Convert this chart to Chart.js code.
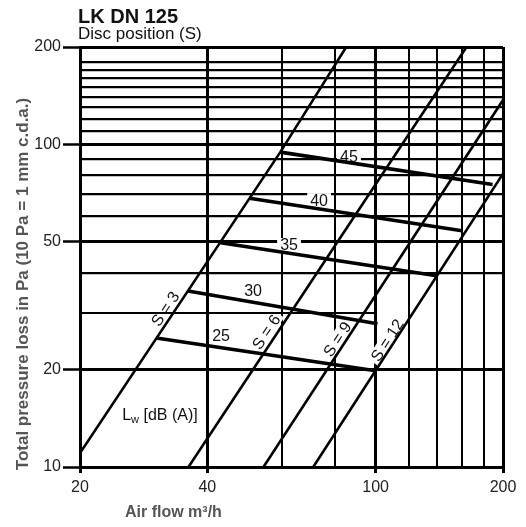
<!DOCTYPE html>
<html><head><meta charset="utf-8">
<script src="https://cdn.jsdelivr.net/npm/chart.js@4.4.1/dist/chart.umd.min.js"></script>
<style>html,body{margin:0;padding:0;background:#fff}canvas{display:block}</style>
</head><body>
<canvas id="c" width="526" height="527"></canvas>
<script>
const FONT = '"Liberation Sans", Arial, Helvetica, sans-serif';
const chartTitle = 'LK DN 125';
const chartSubtitle = 'Disc position (S)';
const xAxisTitle = 'Air flow m³/h';
const yAxisTitle = 'Total pressure loss in Pa (10 Pa = 1 mm c.d.a.)';

const xGridValues = [20, 40, 60, 80, 100, 120, 140, 160, 180, 200];
const xTickLabels = [20, 40, 100, 200];
const xMajor = [20, 40, 100, 200];
const yGridValues = [10, 20, 30, 40, 50, 60, 70, 80, 90, 100, 110, 120, 130, 140, 150, 160, 170, 180, 200];
const yTickLabels = [10, 20, 50, 100, 200];
const yMajor = [10, 20, 50, 100, 200];
const yPartial = [30];

// Disc position curves: [air flow m3/h, pressure Pa]
const discNames = ['S = 3', 'S = 6', 'S = 9', 'S = 12'];
const discS3 = [[20, 11.05], [59.5, 94.5], [85.2, 200]];
const discS6 = [[36.1, 10], [164, 200]];
const discS9 = [[54.3, 10], [200, 137]];
const discS12 = [[71.2, 10], [200, 81]];
const discLabelPos = [[31.8, 30.9], [55.1, 26.2], [81.1, 24.9], [106.5, 24.7]];

// Sound power level lines Lw dB(A)
const soundLevels = [25, 30, 35, 40, 45];
const sound25 = [[30.3, 25.1], [99, 19.9]];
const sound30 = [[36, 35.1], [101, 27.8]];
const sound35 = [[43, 49.5], [139.4, 39.1]];
const sound40 = [[50.3, 68], [160, 53.9]];
const sound45 = [[59.5, 94.5], [189, 75]];
const soundLabelPos = [[43.1, 25.6], [51.3, 35.1], [62.4, 48.7], [73.5, 67.1], [86.5, 91.8]];
const lwLabelPos = [30.9, 14.6];
const grid30Partial = [[20, 30], [100, 30]];

const toXY = arr => arr.map(p => ({x: p[0], y: p[1]}));
const discs = [discS3, discS6, discS9, discS12];
const sounds = [sound25, sound30, sound35, sound40, sound45];

const datasets = [];
datasets.push({label: 'grid30', data: toXY(grid30Partial), borderColor: '#000', borderWidth: 2.2});
discs.forEach((d, i) => datasets.push({label: discNames[i], data: toXY(d), borderColor: '#000', borderWidth: 2.6}));
sounds.forEach((d, i) => datasets.push({label: 'Lw ' + soundLevels[i], data: toXY(d), borderColor: '#000', borderWidth: 3.6}));
datasets.forEach(d => { d.showLine = true; d.pointRadius = 0; d.fill = false; d.tension = 0; });

const annot = {
  id: 'annot',
  beforeDatasetsDraw(chart) {
    const {ctx, scales: {x, y}} = chart;
    ctx.save();
    ctx.textAlign = 'center';
    ctx.textBaseline = 'middle';
    // sound level numbers
    ctx.font = '16px ' + FONT;
    soundLevels.forEach((lv, i) => {
      const px = x.getPixelForValue(soundLabelPos[i][0]);
      const py = y.getPixelForValue(soundLabelPos[i][1]);
      const t = String(lv);
      const w = ctx.measureText(t).width;
      ctx.fillStyle = '#fff';
      ctx.fillRect(px - w / 2 - 3, py - 7, w + 6, 14);
      ctx.fillStyle = '#111';
      ctx.fillText(t, px, py + 1);
    });
    // disc labels, rotated along their curve
    ctx.font = '16px ' + FONT;
    discs.forEach((d, i) => {
      const a = d[0], b = d[d.length - 1];
      const ang = Math.atan2(y.getPixelForValue(b[1]) - y.getPixelForValue(a[1]),
                             x.getPixelForValue(b[0]) - x.getPixelForValue(a[0]));
      const px = x.getPixelForValue(discLabelPos[i][0]);
      const py = y.getPixelForValue(discLabelPos[i][1]);
      const t = discNames[i];
      const w = ctx.measureText(t).width;
      ctx.save();
      ctx.translate(px, py);
      ctx.rotate(ang);
      ctx.fillStyle = '#fff';
      ctx.fillRect(-w / 2 - 3, -7, w + 6, 14);
      ctx.fillStyle = '#111';
      ctx.fillText(t, 0, 1);
      ctx.restore();
    });
    // Lw [dB (A)]
    const lx = x.getPixelForValue(lwLabelPos[0]);
    const ly = y.getPixelForValue(lwLabelPos[1]);
    ctx.textAlign = 'left';
    ctx.textBaseline = 'alphabetic';
    ctx.font = '16px ' + FONT;
    const wL = ctx.measureText('L').width;
    const rest = ' [dB (A)]';
    const wR = ctx.measureText(rest).width;
    ctx.font = '11px ' + FONT;
    const wW = ctx.measureText('w').width;
    const total = wL + wW + wR;
    const sx = lx - total / 2;
    const base = ly + 6;
    ctx.fillStyle = '#111';
    ctx.font = '16px ' + FONT;
    ctx.fillText('L', sx, base);
    ctx.font = '11px ' + FONT;
    ctx.fillText('w', sx + wL, base + 3);
    ctx.font = '16px ' + FONT;
    ctx.fillText(rest, sx + wL + wW, base);
    ctx.restore();
  },
  afterDraw(chart) {
    const {ctx, chartArea} = chart;
    ctx.save();
    ctx.fillStyle = '#111';
    ctx.textAlign = 'left';
    ctx.textBaseline = 'alphabetic';
    ctx.font = 'bold 20px ' + FONT;
    ctx.fillText(chartTitle, 78, 23);
    ctx.font = '17px ' + FONT;
    ctx.fillText(chartSubtitle, 78, 39);
    ctx.fillStyle = '#555';
    ctx.font = 'bold 16px ' + FONT;
    ctx.fillText(xAxisTitle, 125, 517);
    ctx.save();
    ctx.translate(28, (chartArea.top + chartArea.bottom) / 2 + 27);
    ctx.rotate(-Math.PI / 2);
    ctx.textAlign = 'center';
    ctx.font = 'bold 17px ' + FONT;
    ctx.fillText(yAxisTitle, 0, 0);
    ctx.restore();
    ctx.restore();
  }
};

new Chart(document.getElementById('c'), {
  type: 'scatter',
  data: {datasets},
  options: {
    responsive: false,
    animation: false,
    devicePixelRatio: 1,
    layout: {padding: {left: 0, top: 47, right: 23, bottom: 0}},
    plugins: {legend: {display: false}, tooltip: {enabled: false}, title: {display: false}},
    scales: {
      x: {
        type: 'logarithmic', min: 20, max: 200,
        afterBuildTicks: s => { s.ticks = xGridValues.map(v => ({value: v})); },
        afterFit: s => { s.height = 60; },
        ticks: {
          autoSkip: false, maxRotation: 0, padding: 5, color: '#222',
          font: {family: FONT, size: 16},
          callback: v => xTickLabels.includes(v) ? String(v) : ''
        },
        grid: {
          color: '#000',
          lineWidth: c => xMajor.includes(c.tick.value) ? 3 : 2,
          tickLength: 6,
          tickWidth: 3,
          tickColor: c => xTickLabels.includes(c.tick.value) ? '#000' : 'rgba(0,0,0,0)'
        },
        border: {display: true, color: '#000', width: 3}
      },
      y: {
        type: 'logarithmic', min: 10, max: 200,
        afterBuildTicks: s => { s.ticks = yGridValues.map(v => ({value: v})); },
        afterFit: s => { s.width = 80; },
        ticks: {
          autoSkip: false, padding: 2, color: '#222',
          font: {family: FONT, size: 16},
          callback: v => yTickLabels.includes(v) ? String(v) : ''
        },
        grid: {
          color: c => yPartial.includes(c.tick.value) ? 'rgba(0,0,0,0)' : '#000',
          lineWidth: c => yMajor.includes(c.tick.value) ? 3 : 2.2,
          tickLength: 17,
          tickWidth: 2.5,
          tickColor: c => yTickLabels.includes(c.tick.value) ? '#000' : 'rgba(0,0,0,0)'
        },
        border: {display: true, color: '#000', width: 3}
      }
    }
  },
  plugins: [annot]
});
</script>
</body></html>
